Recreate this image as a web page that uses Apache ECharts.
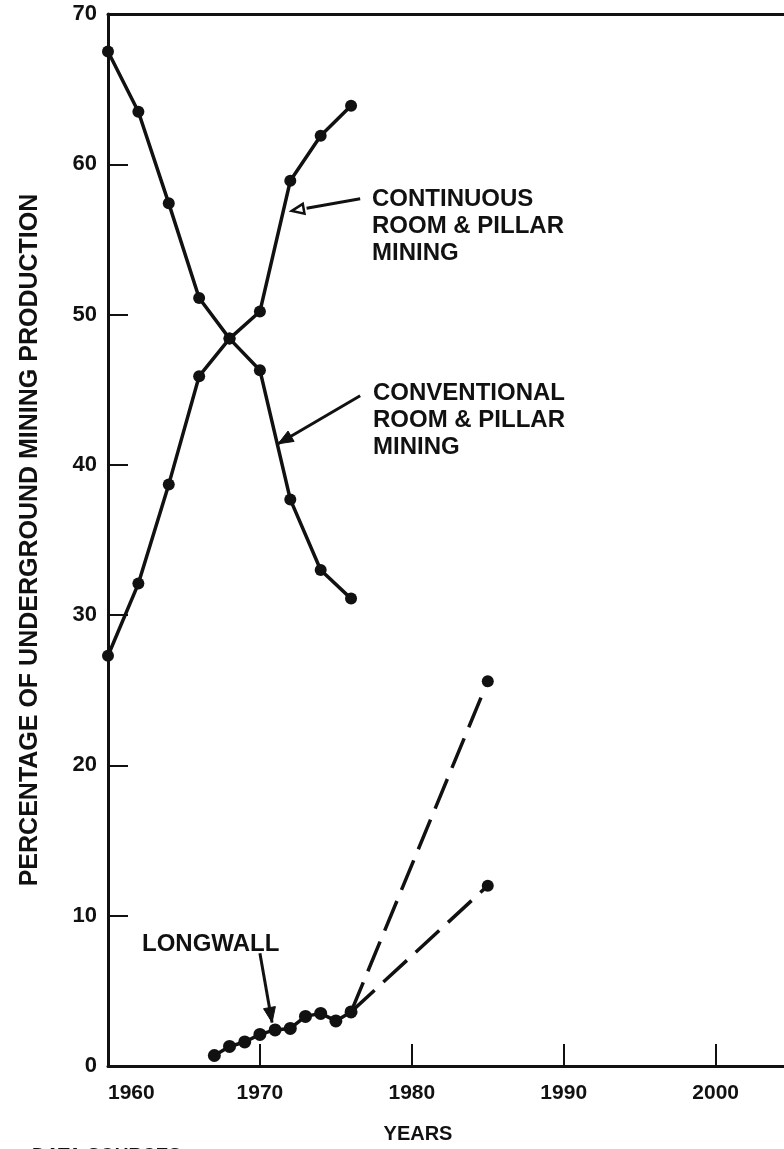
<!DOCTYPE html>
<html>
<head>
<meta charset="utf-8">
<script src="https://cdn.jsdelivr.net/npm/echarts@6/dist/echarts.min.js"></script>
<style>
  html, body { margin: 0; padding: 0; background: #fff; }
  #chart { width: 784px; height: 1149px; }
</style>
</head>
<body>
<div id="chart"></div>
<script>
// Share of underground mining production by method (percent)
const biennialYears = [1960, 1962, 1964, 1966, 1968, 1970, 1972, 1974, 1976];
const conventional  = [67.5, 63.5, 57.4, 51.1, 48.4, 46.3, 37.7, 33.0, 31.1];
const continuous    = [27.3, 32.1, 38.7, 45.9, 48.4, 50.2, 58.9, 61.9, 63.9];

const longwallYears = [1967, 1968, 1969, 1970, 1971, 1972, 1973, 1974, 1975, 1976];
const longwall      = [0.7, 1.3, 1.6, 2.1, 2.4, 2.5, 3.3, 3.5, 3.0, 3.6];

// Projected longwall share (1976 -> 1985), high and low estimates
const projYears = [1976, 1985];
const projHigh  = [3.6, 25.6];
const projLow   = [3.6, 12.0];

const xTickLabels = [1960, 1970, 1980, 1990, 2000];
const yTickLabels = [0, 10, 20, 30, 40, 50, 60, 70];

const FONT = '"Liberation Sans", Arial, sans-serif';
const INK = '#111';

const pair = (xs, ys) => xs.map((x, i) => [x, ys[i]]);

const chart = echarts.init(document.getElementById('chart'), null, { renderer: 'canvas' });

const solidLine = (name, xs, ys, size) => ({
  name, type: 'line', data: pair(xs, ys),
  symbol: 'circle', symbolSize: size, showSymbol: true,
  lineStyle: { color: INK, width: 3.5 }, itemStyle: { color: INK },
  animation: false, z: 3
});

const projLine = (name, xs, ys) => ({
  name, type: 'line',
  data: pair(xs, ys).map((p, i) => ({ value: p, symbol: i === 0 ? 'none' : 'circle' })),
  symbolSize: 12,
  lineStyle: { color: INK, width: 3.5, type: [32, 12] }, itemStyle: { color: INK },
  animation: false, z: 2
});

chart.setOption({
  backgroundColor: '#fff',
  animation: false,
  grid: { left: 108, right: 0, top: 14, bottom: 79, containLabel: false },
  xAxis: [{
    type: 'value', min: 1960, max: 2004.5, interval: 10,
    axisLine: { show: true, lineStyle: { color: INK, width: 3 } },
    axisTick: { show: true, inside: true, length: 22, lineStyle: { color: INK, width: 2 },
                customValues: [1970, 1980, 1990, 2000] },
    axisLabel: { show: true, customValues: xTickLabels, margin: 17, alignMinLabel: 'left',
                 formatter: v => String(v),
                 color: INK, fontFamily: FONT, fontWeight: 'bold', fontSize: 21 },
    splitLine: { show: false },
    name: 'YEARS', nameLocation: 'middle', nameGap: 58,
    nameTextStyle: { color: INK, fontFamily: FONT, fontWeight: 'bold', fontSize: 20,
                     padding: [0, 56, 0, 0] }
  }, {
    type: 'value', position: 'top', min: 1960, max: 2004.5,
    axisLine: { show: true, lineStyle: { color: INK, width: 3 } },
    axisTick: { show: false }, axisLabel: { show: false }, splitLine: { show: false }
  }],
  yAxis: {
    type: 'value', min: 0, max: 70, interval: 10,
    axisLine: { show: true, lineStyle: { color: INK, width: 3 } },
    axisTick: { show: true, inside: true, length: 20, lineStyle: { color: INK, width: 2 },
                customValues: [10, 20, 30, 40, 50, 60] },
    axisLabel: { show: true, customValues: yTickLabels, margin: 11,
                 color: INK, fontFamily: FONT, fontWeight: 'bold', fontSize: 22 },
    splitLine: { show: false },
    name: 'PERCENTAGE OF UNDERGROUND MINING PRODUCTION',
    nameLocation: 'middle', nameGap: 65, nameRotate: 90,
    nameTextStyle: { color: INK, fontFamily: FONT, fontWeight: 'bold', fontSize: 25 }
  },
  series: [
    solidLine('Conventional room & pillar', biennialYears, conventional, 12),
    solidLine('Continuous room & pillar', biennialYears, continuous, 12),
    solidLine('Longwall', longwallYears, longwall, 13),
    projLine('Longwall projection (high)', projYears, projHigh),
    projLine('Longwall projection (low)', projYears, projLow)
  ]
});

// Callout labels with leader arrows, anchored in data coordinates
const callouts = [
  { lines: ['CONTINUOUS', 'ROOM & PILLAR', 'MINING'], textAt: [372, 186],
    from: [1976.6, 57.7], to: [1972.1, 56.9], head: 'open' },
  { lines: ['CONVENTIONAL', 'ROOM & PILLAR', 'MINING'], textAt: [373, 380],
    from: [1976.6, 44.6], to: [1971.2, 41.4], head: 'filled' },
  { lines: ['LONGWALL'], textAt: [142, 931],
    from: [1970.0, 7.5], to: [1970.8, 2.9], head: 'filled' }
];

function arrowHead(tip, tail, len, half) {
  const dx = tip[0] - tail[0], dy = tip[1] - tail[1];
  const d = Math.hypot(dx, dy) || 1;
  const ux = dx / d, uy = dy / d;
  const bx = tip[0] - ux * len, by = tip[1] - uy * len;
  return [tip, [bx - uy * half, by + ux * half], [bx + uy * half, by - ux * half]];
}

const elements = [];
callouts.forEach(c => {
  elements.push({
    type: 'text', left: c.textAt[0], top: c.textAt[1], z: 10,
    style: { text: c.lines.join('\n'), fill: INK, fontFamily: FONT, fontWeight: 'bold',
             fontSize: 24, lineHeight: 27 }
  });
  const a = chart.convertToPixel({ gridIndex: 0 }, c.from);
  const b = chart.convertToPixel({ gridIndex: 0 }, c.to);
  const pts = arrowHead(b, a, 15, 6);
  const base = [(pts[1][0] + pts[2][0]) / 2, (pts[1][1] + pts[2][1]) / 2];
  elements.push({
    type: 'polyline', z: 10,
    shape: { points: [a, c.head === 'open' ? base : b] },
    style: { stroke: INK, lineWidth: 3 }
  });
  elements.push({
    type: 'polygon', z: 10,
    shape: { points: c.head === 'open' ? arrowHead(b, a, 12, 5) : pts },
    style: c.head === 'open'
      ? { fill: '#fff', stroke: INK, lineWidth: 2.5 }
      : { fill: INK, stroke: INK, lineWidth: 1 }
  });
});

// Source note along the lower edge
elements.push({
  type: 'text', left: 32, top: 1146, z: 10,
  style: { text: 'DATA SOURCES', fill: INK, fontFamily: FONT, fontWeight: 'bold', fontSize: 19 }
});

chart.setOption({ graphic: { elements } });
</script>
</body>
</html>
